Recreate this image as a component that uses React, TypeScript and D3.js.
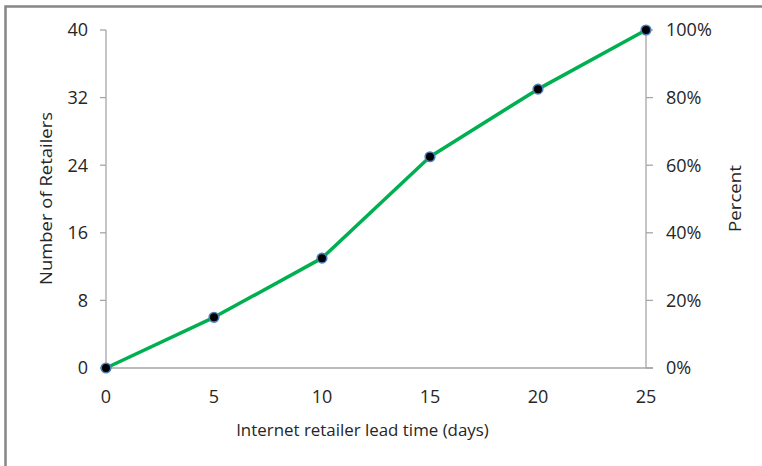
import React from "react";
import * as d3 from "d3";

const leadTimes = [0, 5, 10, 15, 20, 25];
const retailers = [0, 6, 13, 25, 33, 40];
const leftTicks = [0, 8, 16, 24, 32, 40];
const rightTicks = [0, 0.2, 0.4, 0.6, 0.8, 1.0];
const xTicks = [0, 5, 10, 15, 20, 25];

const W = 762;
const H = 466;
const FONT = "'Open Sans', sans-serif";
const FS = 16.9;
const TFS = 18;
const TXT = "#262626";

export default function App() {
  const x = d3.scaleLinear().domain([0, 25]).range([106, 646]);
  const y = d3.scaleLinear().domain([0, 40]).range([368, 30]);
  const yR = d3.scaleLinear().domain([0, 1]).range([368, 30]);
  const line = d3
    .line<number>()
    .x((_, i) => x(leadTimes[i]))
    .y((d) => y(d));
  const pts = retailers.map((v, i) => ({ x: leadTimes[i], y: v }));
  return (
    <svg
      width={W}
      height={H}
      style={{ position: "absolute", left: 0, top: 0, background: "#fff" }}
      fontFamily={FONT}
    >
      <rect x={5.5} y={6.5} width={820} height={520} fill="none" stroke="#868686" strokeWidth={2.5} />
      <line x1={x(0)} x2={x(0)} y1={y(0)} y2={y(40)} stroke="#a6a6a6" strokeWidth={1.3} />
      <line x1={x(25)} x2={x(25)} y1={y(0)} y2={y(40)} stroke="#a6a6a6" strokeWidth={1.3} />
      <line x1={x(0) - 6} x2={x(25) + 7} y1={y(0)} y2={y(0)} stroke="#a6a6a6" strokeWidth={1.3} />
      {leftTicks.map((t) => (
        <g key={"l" + t}>
          <line x1={x(0) - 6} x2={x(0)} y1={y(t)} y2={y(t)} stroke="#a6a6a6" strokeWidth={1.3} />
          <text x={88} y={y(t)} dy="0.36em" textAnchor="end" fontSize={TFS} fill={TXT}>
            {t}
          </text>
        </g>
      ))}
      {rightTicks.map((t) => (
        <g key={"r" + t}>
          <line x1={x(25)} x2={x(25) + 7} y1={yR(t)} y2={yR(t)} stroke="#a6a6a6" strokeWidth={1.3} />
          <text x={666} y={yR(t)} dy="0.36em" textAnchor="start" fontSize={TFS} fill={TXT}>
            {d3.format(".0%")(t)}
          </text>
        </g>
      ))}
      {xTicks.map((t) => (
        <text key={"x" + t} x={x(t)} y={397} dy="0.36em" textAnchor="middle" fontSize={TFS} fill={TXT}>
          {t}
        </text>
      ))}
      <text x={362.5} y={430} dy="0.36em" textAnchor="middle" fontSize={FS} fill={TXT}>
        Internet retailer lead time (days)
      </text>
      <text
        transform={`translate(46,198.5) rotate(-90)`}
        dy="0.36em"
        textAnchor="middle"
        fontSize={FS}
        fill={TXT}
        textLength={173}
        lengthAdjust="spacingAndGlyphs"
      >
        Number of Retailers
      </text>
      <text
        transform={`translate(735,198.5) rotate(-90)`}
        dy="0.36em"
        textAnchor="middle"
        fontSize={FS}
        fill={TXT}
        textLength={67}
        lengthAdjust="spacingAndGlyphs"
      >
        Percent
      </text>
      <path d={line(retailers) || ""} fill="none" stroke="#00b050" strokeWidth={3.5} strokeLinejoin="round" />
      {pts.map((p, i) => (
        <circle key={i} cx={x(p.x)} cy={y(p.y)} r={4.8} fill="#000" stroke="#4a7ebb" strokeWidth={1.6} />
      ))}
    </svg>
  );
}
